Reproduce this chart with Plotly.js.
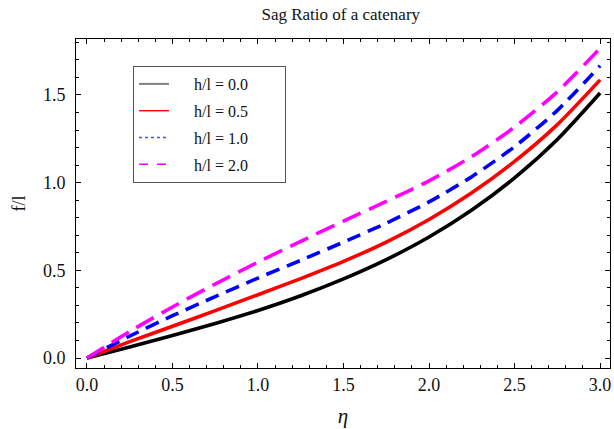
<!DOCTYPE html>
<html>
<head>
<meta charset="utf-8">
<script src="https://cdn.plot.ly/plotly-3.0.1.min.js"></script>
<style>html,body{margin:0;padding:0;background:#fff;}#chart{width:614px;height:429px;}</style>
</head>
<body>
<div id="chart"></div>
<script>
const eta = [0, 0.25, 0.5, 0.75, 1.0, 1.25, 1.5, 1.75, 2.0, 2.25, 2.5, 2.75, 3.0];
const ratio00 = [0, 0.063, 0.128, 0.197, 0.271, 0.355, 0.451, 0.561, 0.690, 0.844, 1.027, 1.246, 1.511];
const ratio05 = [0, 0.093, 0.181, 0.270, 0.361, 0.453, 0.551, 0.661, 0.790, 0.942, 1.121, 1.331, 1.586];
const ratio10 = [0, 0.125, 0.241, 0.350, 0.456, 0.557, 0.661, 0.769, 0.890, 1.034, 1.205, 1.412, 1.666];
const ratio20 = [0, 0.151, 0.291, 0.422, 0.547, 0.665, 0.781, 0.893, 1.010, 1.149, 1.317, 1.518, 1.766];
const seriesNames = ['h/l = 0.0', 'h/l = 0.5', 'h/l = 1.0', 'h/l = 2.0'];
const seriesData = [ratio00, ratio05, ratio10, ratio20];
const colors = ['#000000', '#ff0000', '#0000ff', '#ff00ff'];
const dashes = ['solid', 'solid', '14px,8px', '20px,9px'];
const legendColors = ['#808080', '#ff0000', '#4a4aff', '#ff00ff'];
const legendDashes = ['solid', 'solid', 'dot', 'dash'];

const FONT = 'Liberation Serif, Times New Roman, serif';
const padL = '\u00a0'.repeat(5);
const padR = '\u00a0'.repeat(8);

const traces = [];
seriesData.forEach((ys, i) => {
  traces.push({
    x: eta, y: ys, mode: 'lines', type: 'scatter',
    line: {color: colors[i], width: 3.6, dash: dashes[i], shape: 'spline', smoothing: 0.7},
    showlegend: false, hoverinfo: 'skip'
  });
});
seriesData.forEach((ys, i) => {
  traces.push({
    x: [null], y: [null], mode: 'lines', type: 'scatter',
    name: padL + seriesNames[i] + padR,
    legendgroup: 'g' + i,
    line: {color: legendColors[i], width: i === 0 ? 2 : 1.4, dash: legendDashes[i]},
    showlegend: true
  });
});

const axisCommon = {
  showline: true, mirror: 'ticks', linecolor: '#000', linewidth: 1,
  ticks: 'inside', ticklen: 5, tickwidth: 1, tickcolor: '#000',
  showgrid: false, zeroline: false,
  tickfont: {family: FONT, size: 18, color: '#111'},
  minor: {ticks: 'inside', ticklen: 3, tickwidth: 1, tickcolor: '#000', dtick: 0.1, showgrid: false}
};

const layout = {
  width: 614, height: 429,
  margin: {l: 76, r: 4, t: 39, b: 61},
  paper_bgcolor: '#fff', plot_bgcolor: '#fff',
  title: {text: 'Sag Ratio of a catenary', font: {family: FONT, size: 17, color: '#111'}, x: 0.555, xanchor: 'center', y: 0.967, yanchor: 'middle'},
  xaxis: Object.assign({}, axisCommon, {
    range: [-0.064, 3.058], dtick: 0.5, tick0: 0, tickformat: '.1f',
    title: {text: '<i>η</i>', font: {family: FONT, size: 21, color: '#111'}, standoff: 14}
  }),
  yaxis: Object.assign({}, axisCommon, {
    range: [-0.057, 1.819], dtick: 0.5, tick0: 0, tickformat: '.1f',
    ticklabelstandoff: 6,
    title: {text: 'f/l', font: {family: FONT, size: 18, color: '#111'}, standoff: 12}
  }),
  legend: {
    xref: 'paper', yref: 'paper',
    xanchor: 'left', yanchor: 'top',
    bgcolor: '#fff', bordercolor: '#555', borderwidth: 1,
    font: {family: FONT, size: 16, color: '#111'},
    tracegroupgap: 3
  },
  showlegend: true
};
layout.legend.x = (133 - 76) / (614 - 80);
layout.legend.y = 1 - (66 - 39) / (429 - 100);

Plotly.newPlot('chart', traces, layout, {displayModeBar: false, staticPlot: true});
</script>
</body>
</html>
